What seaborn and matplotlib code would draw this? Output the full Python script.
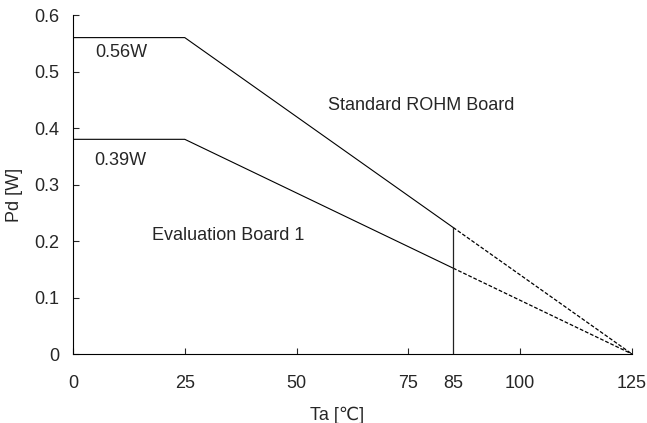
import pandas as pd
import matplotlib.pyplot as plt
import seaborn as sns

# derating curves
ta_solid = [0, 25, 85]
pd_rohm_solid = [0.56, 0.56, 0.224]
pd_eval_solid = [0.38, 0.38, 0.152]
ta_dash = [85, 125]
pd_rohm_dash = [0.224, 0.0]
pd_eval_dash = [0.152, 0.0]
vline_x = [85, 85]
vline_y = [0.0, 0.224]

x_ticks = [0, 25, 50, 75, 85, 100, 125]
y_ticks = [0, 0.1, 0.2, 0.3, 0.4, 0.5, 0.6]
y_tick_labels = ["0", "0.1", "0.2", "0.3", "0.4", "0.5", "0.6"]

sns.set_style("white")
plt.rcParams["font.family"] = ["Liberation Sans", "DejaVu Sans"]
FS = 13

fig = plt.figure(figsize=(6.47, 4.23), dpi=100)
ax = fig.add_axes([0.1128, 0.1631, 0.864, 0.8014])

solid = pd.DataFrame({"ta": ta_solid, "rohm": pd_rohm_solid, "eval": pd_eval_solid})
dash = pd.DataFrame({"ta": ta_dash, "rohm": pd_rohm_dash, "eval": pd_eval_dash})
vline = pd.DataFrame({"ta": vline_x, "pd": vline_y})

for col in ["rohm", "eval"]:
    sns.lineplot(data=solid, x="ta", y=col, ax=ax, color="black", lw=0.8,
                 estimator=None, sort=False)
    sns.lineplot(data=dash, x="ta", y=col, ax=ax, color="black", lw=0.9,
                 linestyle=(0, (3, 1.5)), estimator=None, sort=False)
# vertical marker at 85 degC (estimator=None so the two points are not averaged)
sns.lineplot(data=vline, x="ta", y="pd", ax=ax, color="#222222", lw=0.9,
             estimator=None, sort=False)

ax.set_xlim(0, 125)
ax.set_ylim(0, 0.6)
ax.set_xticks(x_ticks)
ax.set_yticks(y_ticks)
ax.set_yticklabels(y_tick_labels)
ax.tick_params(axis="x", bottom=True, direction="in", length=4.5, width=0.8,
               pad=15, labelsize=FS)
ax.tick_params(axis="y", left=True, direction="in", length=4.5, width=0.8,
               pad=10, labelsize=FS)
ax.xaxis.get_major_ticks()[4].tick1line.set_visible(False)

sns.despine(ax=ax)
for s in ["left", "bottom"]:
    ax.spines[s].set_color("black")
    ax.spines[s].set_linewidth(0.8)

ax.set_xlabel("Ta [\u2103]", fontsize=FS)
ax.set_ylabel("Pd [W]", fontsize=FS)
ax.xaxis.set_label_coords(0.472, -0.156)
ax.yaxis.set_label_coords(-0.09, 0.47)

ax.text(10.7, 0.534, "0.56W", ha="center", va="center", fontsize=FS)
ax.text(10.5, 0.342, "0.39W", ha="center", va="center", fontsize=FS)
ax.text(77.8, 0.439, "Standard ROHM Board", ha="center", va="center", fontsize=FS)
ax.text(34.7, 0.209, "Evaluation Board 1", ha="center", va="center", fontsize=FS)

fig.savefig("out.png", dpi=100)
